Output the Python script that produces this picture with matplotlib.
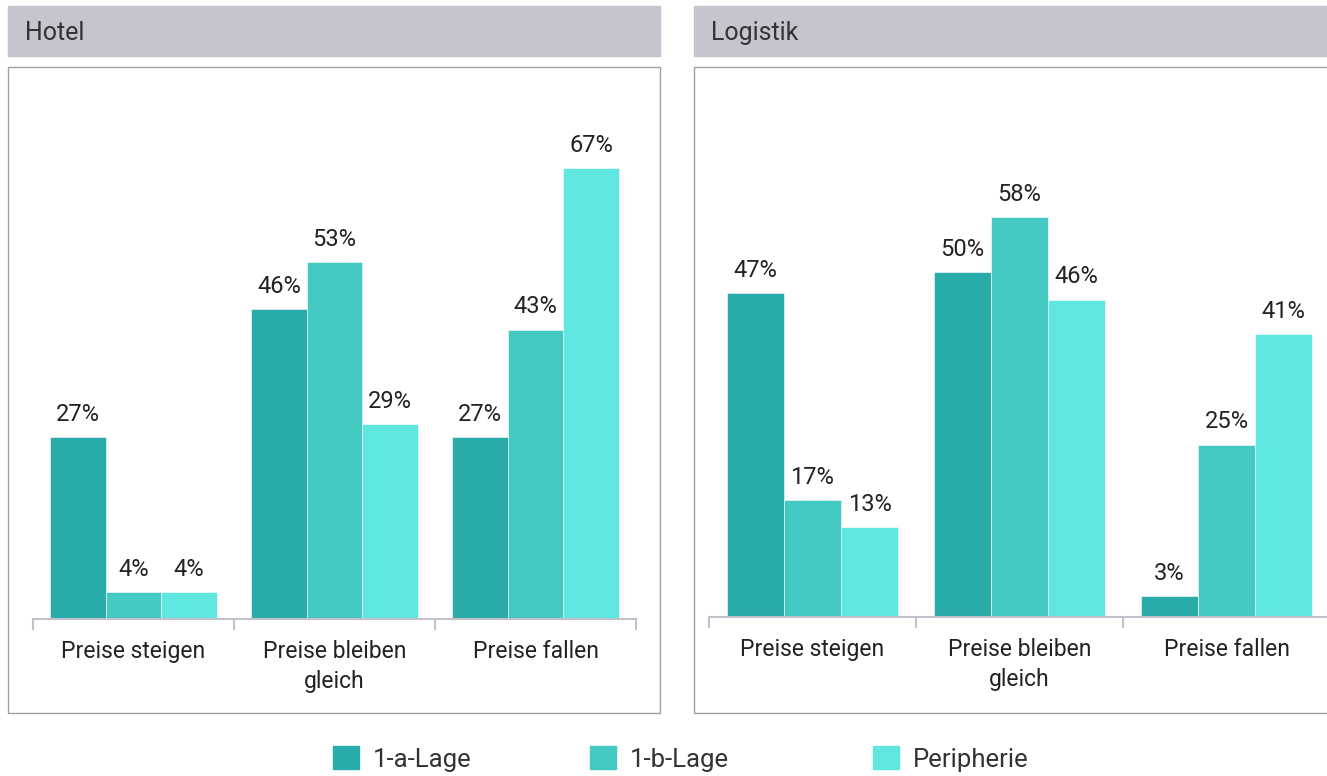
import matplotlib.pyplot as plt
from matplotlib.patches import Rectangle, Patch

plt.rcParams['font.family'] = ['Roboto', 'DejaVu Sans']

categories = ['Preise steigen', 'Preise bleiben\ngleich', 'Preise fallen']
series = ['1-a-Lage', '1-b-Lage', 'Peripherie']
colors = ['#28aba9', '#43c9c2', '#5fe6e0']

hotel = {
    '1-a-Lage': [27, 46, 27],
    '1-b-Lage': [4, 53, 43],
    'Peripherie': [4, 29, 67],
}
logistik = {
    '1-a-Lage': [47, 50, 3],
    '1-b-Lage': [17, 58, 25],
    'Peripherie': [13, 46, 41],
}

W, H = 1327, 776
fig = plt.figure(figsize=(W / 100, H / 100), dpi=100)


def fx(px):
    return px / W


def fy(py):
    return 1 - py / H


def panel(x0, x1, title):
    # grey header band
    fig.patches.append(Rectangle((fx(x0), fy(56)), fx(x1 - x0), 50 / H,
                                 transform=fig.transFigure, color='#c4c5cd', zorder=0))
    fig.text(fx(x0 + 17), fy(33), title, fontsize=18, color='#333333', va='center')
    # frame
    fig.patches.append(Rectangle((fx(x0), fy(713)), fx(x1 - x0), 646 / H,
                                 transform=fig.transFigure, facecolor='none',
                                 edgecolor='#a0a0a8', lw=1, zorder=0))


panel(8, 660, 'Hotel')
panel(694, 1340, 'Logistik')


def chart(rect, data, ymax):
    ax = fig.add_axes(rect)
    ax.patch.set_alpha(0)
    w = 0.276
    for i, s in enumerate(series):
        xs = [g + (i - 1) * w for g in range(len(categories))]
        bars = ax.bar(xs, data[s], width=w, color=colors[i], edgecolor='white', lw=0.4)
        ax.bar_label(bars, labels=[f'{v}%' for v in data[s]], padding=8,
                     fontsize=17, color='#222222')
    ax.set_xlim(-0.5, 2.5)
    ax.set_ylim(0, ymax)
    for sp in ['top', 'left', 'right']:
        ax.spines[sp].set_visible(False)
    ax.spines['bottom'].set_color('#c0c1c9')
    ax.spines['bottom'].set_linewidth(1.5)
    ax.set_yticks([])
    ax.set_xticks([-0.5, 0.5, 1.5, 2.5])
    ax.set_xticklabels([])
    ax.tick_params(axis='x', which='major', length=8, width=1.5, color='#c0c1c9')
    ax.set_xticks(range(len(categories)), minor=True)
    ax.set_xticklabels(categories, minor=True, fontsize=16.5, color='#222222',
                       linespacing=1.4)
    ax.tick_params(axis='x', which='minor', length=0, pad=15)
    return ax


chart([fx(33), fy(619), fx(603), 519 / H], hotel, 519 / 6.73)
chart([fx(709), fy(617), fx(621), 517 / H], logistik, 517 / 6.9)

for i, s in enumerate(series):
    x = [333, 590, 873][i]
    fig.legend(handles=[Patch(color=colors[i], label=s)], loc='center left',
               bbox_to_anchor=(fx(x), fy(759)), frameon=False, fontsize=18.5,
               handlelength=1.0, handleheight=1.0, handletextpad=0.55,
               borderpad=0, borderaxespad=0, labelcolor='#333333')

fig.savefig('out.png', dpi=100)
